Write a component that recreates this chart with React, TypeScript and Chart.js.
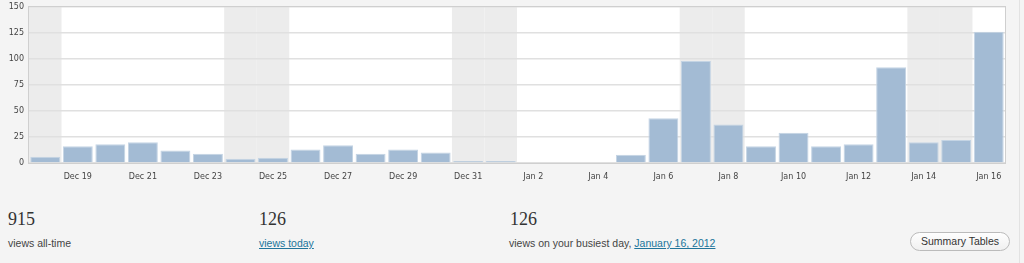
import React, { useEffect, useRef } from "react";
import { Chart, registerables } from "chart.js";

Chart.register(...registerables);

const days = [
  "Dec 18", "Dec 19", "Dec 20", "Dec 21", "Dec 22", "Dec 23", "Dec 24", "Dec 25",
  "Dec 26", "Dec 27", "Dec 28", "Dec 29", "Dec 30", "Dec 31", "Jan 1", "Jan 2",
  "Jan 3", "Jan 4", "Jan 5", "Jan 6", "Jan 7", "Jan 8", "Jan 9", "Jan 10",
  "Jan 11", "Jan 12", "Jan 13", "Jan 14", "Jan 15", "Jan 16",
];
const views = [
  6, 16, 18, 20, 12, 9, 4, 5, 13, 17, 9, 13, 10, 2, 2, 0, 0, 0, 8, 43, 98, 37,
  16, 29, 16, 18, 92, 20, 22, 126,
];
const weekendDays = ["Dec 18", "Dec 24", "Dec 25", "Dec 31", "Jan 1", "Jan 7", "Jan 8", "Jan 14", "Jan 15"];
const yTicks = [0, 25, 50, 75, 100, 125, 150];

const shadePlugin = {
  id: "shade",
  beforeDraw(chart: any) {
    const { ctx, chartArea, scales } = chart;
    ctx.save();
    ctx.fillStyle = "#ffffff";
    ctx.fillRect(chartArea.left, chartArea.top, chartArea.width, chartArea.height);
    const w = chartArea.width / days.length;
    ctx.fillStyle = "#ececec";
    days.forEach((d, i) => {
      if (weekendDays.includes(d)) {
        const cx = scales.x.getPixelForValue(i);
        ctx.fillRect(cx - w / 2, chartArea.top, w, chartArea.height);
      }
    });
    ctx.restore();
  },
  afterDraw(chart: any) {
    const { ctx, chartArea } = chart;
    ctx.save();
    ctx.strokeStyle = "#cfcfcf";
    ctx.lineWidth = 1;
    ctx.strokeRect(
      Math.round(chartArea.left) - 0.5,
      Math.round(chartArea.top) - 0.5,
      Math.round(chartArea.width) + 1,
      Math.round(chartArea.height) + 1
    );
    ctx.restore();
  },
};

function ViewsChart() {
  const ref = useRef<HTMLCanvasElement>(null);
  useEffect(() => {
    if (!ref.current) return;
    const chart = new Chart(ref.current, {
      type: "bar",
      data: {
        labels: days,
        datasets: [
          {
            data: views,
            backgroundColor: "#a3bbd4",
            borderColor: "#c4d4e4",
            borderWidth: 1,
            barPercentage: 0.92,
            categoryPercentage: 1,
          },
        ],
      },
      options: {
        animation: false,
        responsive: false,
        maintainAspectRatio: false,
        layout: { padding: { left: 0, right: 19, top: 0, bottom: 0 } },
        plugins: { legend: { display: false }, tooltip: { enabled: false } },
        scales: {
          x: {
            grid: { display: false, drawTicks: false },
            border: { display: false },
            ticks: {
              autoSkip: false,
              maxRotation: 0,
              minRotation: 0,
              padding: 9,
              color: "#444",
              font: { family: "DejaVu Sans", size: 8 },
              callback: (_v: any, i: number) => (i % 2 === 1 ? days[i] : ""),
            },
            afterFit: (s: any) => {
              s.height = 23;
            },
          },
          y: {
            min: 0,
            max: 150,
            afterBuildTicks: (s: any) => {
              s.ticks = yTicks.map((v) => ({ value: v }));
            },
            grid: { color: "#e0e0e0", lineWidth: 1.5, drawTicks: false },
            border: { display: false },
            ticks: {
              padding: 5,
              color: "#444",
              font: { family: "DejaVu Sans", size: 8 },
            },
            afterFit: (s: any) => {
              s.width = 29;
            },
          },
        },
      },
      plugins: [shadePlugin],
    });
    return () => chart.destroy();
  }, []);
  return <canvas ref={ref} width={1024} height={189} style={{ display: "block", width: 1024, height: 189 }} />;
}

const numStyle: React.CSSProperties = {
  position: "absolute",
  top: 207,
  fontFamily: "'Liberation Serif', serif",
  fontSize: 18,
  color: "#333",
  lineHeight: "24px",
};
const labelStyle: React.CSSProperties = {
  position: "absolute",
  top: 236,
  fontFamily: "'Liberation Sans', Arial, sans-serif",
  fontSize: 10.5,
  color: "#444",
  lineHeight: "14px",
  whiteSpace: "nowrap",
};
const linkStyle: React.CSSProperties = { color: "#21759b", textDecoration: "underline" };

export default function App() {
  useEffect(() => {
    document.body.style.margin = "0";
  }, []);
  return (
    <div
      style={{
        position: "absolute",
        left: 0,
        top: 0,
        width: 1024,
        height: 263,
        background: "#f4f4f4",
        overflow: "hidden",
      }}
    >
      <div style={{ position: "absolute", left: 0, top: -3 }}>
        <ViewsChart />
      </div>
      <div style={{ position: "absolute", left: 1019, top: 0, width: 1, height: 263, background: "#e2e2e2" }} />
      <div style={{ ...numStyle, left: 8 }}>915</div>
      <div style={{ ...labelStyle, left: 8 }}>views all-time</div>
      <div style={{ ...numStyle, left: 259 }}>126</div>
      <div style={{ ...labelStyle, left: 259 }}>
        <span style={linkStyle}>views today</span>
      </div>
      <div style={{ ...numStyle, left: 510 }}>126</div>
      <div style={{ ...labelStyle, left: 509 }}>
        views on your busiest day, <span style={linkStyle}>January 16, 2012</span>
      </div>
      <div
        style={{
          position: "absolute",
          left: 910,
          top: 232,
          width: 100,
          height: 19,
          boxSizing: "border-box",
          border: "1px solid #bbb",
          borderRadius: 10,
          background: "linear-gradient(#fefefe, #f0f0f0)",
          fontFamily: "'Liberation Sans', Arial, sans-serif",
          fontSize: 10.5,
          color: "#333",
          lineHeight: "17px",
          textAlign: "center",
        }}
      >
        Summary Tables
      </div>
    </div>
  );
}
